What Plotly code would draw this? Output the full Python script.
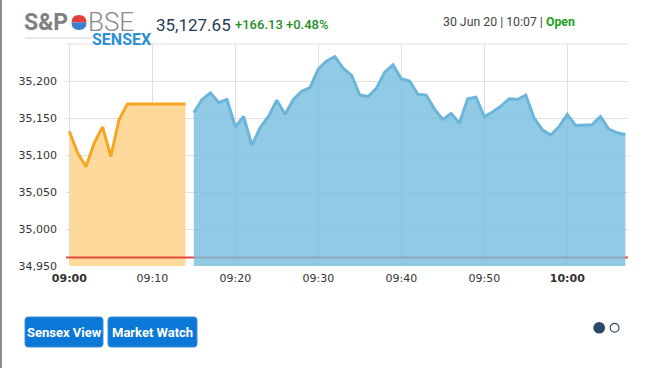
import plotly.graph_objects as go
import pandas as pd

# ---------------- data ----------------
pre_open_times = pd.date_range("2020-06-30 09:00", "2020-06-30 09:14", freq="1min")
pre_open_values = [35132, 35103, 35084, 35116, 35138, 35098, 35148, 35169,
                   35169, 35169, 35169, 35169, 35169, 35169, 35169]

session_times = pd.date_range("2020-06-30 09:15", "2020-06-30 10:07", freq="1min")
session_values = [35157, 35175, 35184, 35171, 35175, 35138, 35152, 35113, 35137, 35152,
                  35174, 35155, 35175, 35186, 35191, 35216, 35227, 35233, 35217, 35208,
                  35181, 35179, 35190, 35212, 35222, 35203, 35200, 35182, 35181, 35162,
                  35148, 35156, 35143, 35176, 35178, 35152, 35158, 35166, 35176, 35175,
                  35181, 35150, 35134, 35127, 35138, 35155, 35140, 35141, 35141, 35152,
                  35135, 35130, 35127.65]

prev_close = 34961.52

y_tick_vals = [34950, 35000, 35050, 35100, 35150, 35200]
y_tick_text = ["34,950", "35,000", "35,050", "35,100", "35,150", "35,200"]
x_tick_vals = ["2020-06-30 09:00", "2020-06-30 09:10", "2020-06-30 09:20", "2020-06-30 09:30",
               "2020-06-30 09:40", "2020-06-30 09:50", "2020-06-30 10:00"]
x_tick_text = ["<b>09:00</b>", "09:10", "09:20", "09:30", "09:40", "09:50", "<b>10:00</b>"]

last_value = "35,127.65"
change_text = "+166.13 +0.48%"
date_text = "30 Jun 20 | 10:07 | "
status_text = "Open"

# ---------------- layout helpers ----------------
W, H = 648, 368
L, R, T, B = 66, 20, 44, 102
PW, PH = W - L - R, H - T - B


def px(x):
    return (x - L) / PW


def py(y):
    return (H - B - y) / PH


fig = go.Figure()

fig.add_trace(go.Scatter(
    x=pre_open_times, y=pre_open_values, mode="lines",
    line=dict(color="#f5a623", width=3), fill="tozeroy", fillcolor="#fdd99b",
    hoverinfo="skip", showlegend=False))

fig.add_trace(go.Scatter(
    x=[pd.Timestamp("2020-06-30 08:59:30"), pd.Timestamp("2020-06-30 10:07:30")],
    y=[prev_close, prev_close], mode="lines",
    line=dict(color="#e5483c", width=2), hoverinfo="skip", showlegend=False))

fig.add_trace(go.Scatter(
    x=session_times, y=session_values, mode="lines",
    line=dict(color="#6cb5da", width=3), fill="tozeroy",
    fillcolor="rgba(118,189,222,0.80)",
    hoverinfo="skip", showlegend=False))

shapes = []
# top grid line
shapes.append(dict(type="line", xref="paper", yref="paper", x0=0, x1=1, y0=1, y1=1,
                   line=dict(color="#e0e0e0", width=1), layer="below"))
# left page border
shapes.append(dict(type="line", xref="paper", yref="paper", x0=px(1), x1=px(1), y0=py(0), y1=py(H),
                   line=dict(color="#8c8c8c", width=2)))
# logo underline
shapes.append(dict(type="line", xref="paper", yref="paper", x0=px(25), x1=px(92), y0=py(38), y1=py(38),
                   line=dict(color="#cfcfcf", width=1)))
# logo emblem: red top half, blue bottom half
cx, cy, r = 79, 22.5, 7.5
shapes.append(dict(type="path", xref="paper", yref="paper",
                   path=f"M {px(cx - r)},{py(cy)} Q {px(cx - r)},{py(cy - r)} {px(cx)},{py(cy - r)} "
                        f"Q {px(cx + r)},{py(cy - r)} {px(cx + r)},{py(cy)} Z",
                   fillcolor="#e53e3e", line=dict(width=0)))
shapes.append(dict(type="path", xref="paper", yref="paper",
                   path=f"M {px(cx - r)},{py(cy)} Q {px(cx - r)},{py(cy + r)} {px(cx)},{py(cy + r)} "
                        f"Q {px(cx + r)},{py(cy + r)} {px(cx + r)},{py(cy)} Z",
                   fillcolor="#3a7fd0", line=dict(width=0)))


def rounded_rect(x0, y0, x1, y1, rad, color):
    p = (f"M {px(x0 + rad)},{py(y0)} L {px(x1 - rad)},{py(y0)} Q {px(x1)},{py(y0)} {px(x1)},{py(y0 + rad)} "
         f"L {px(x1)},{py(y1 - rad)} Q {px(x1)},{py(y1)} {px(x1 - rad)},{py(y1)} "
         f"L {px(x0 + rad)},{py(y1)} Q {px(x0)},{py(y1)} {px(x0)},{py(y1 - rad)} "
         f"L {px(x0)},{py(y0 + rad)} Q {px(x0)},{py(y0)} {px(x0 + rad)},{py(y0)} Z")
    return dict(type="path", xref="paper", yref="paper", path=p, fillcolor=color,
                line=dict(color="#3f8fdc", width=1))


shapes.append(rounded_rect(25, 317, 103, 347, 3, "#0b78d7"))
shapes.append(rounded_rect(108, 317, 197, 347, 3, "#0b78d7"))
# pager dots
shapes.append(dict(type="circle", xref="paper", yref="paper", x0=px(593.3), x1=px(605.1),
                   y0=py(322), y1=py(333.6), fillcolor="#2b4a67", line=dict(width=0)))
shapes.append(dict(type="circle", xref="paper", yref="paper", x0=px(610.2), x1=px(619),
                   y0=py(323.4), y1=py(332.2), fillcolor="white", line=dict(color="#2b4a67", width=1.2)))

ann = []


def text(x, y, s, size, color, family="Roboto", xanchor="left", weight="normal"):
    ann.append(dict(x=px(x), y=py(y), xref="paper", yref="paper", text=s, showarrow=False,
                    xanchor=xanchor, yanchor="middle", borderpad=0,
                    font=dict(family=family, size=size, color=color, weight=weight)))


text(23, 22.5, "S&amp;P", 23, "#808080", family="Roboto", weight="bold")
text(87, 22.5, "BSE", 26, "#8a8a8a", family="Roboto", weight=300)
text(91, 40, "SENSEX", 16, "#2d8fd5", family="Roboto", weight="bold")
text(155, 25, last_value, 17, "#1f3b57", family="Roboto")
text(234, 25, change_text, 13, "#1f8f1f", family="Roboto", weight=500)
text(442, 22, date_text + f"<b><span style='color:#22a022'>{status_text}</span></b>", 12.3, "#444444",
     family="Roboto")
text(64, 332, "Sensex View", 13, "white", family="Roboto", xanchor="center", weight="bold")
text(152.5, 332, "Market Watch", 13, "white", family="Roboto", xanchor="center", weight="bold")

fig.update_layout(
    width=W, height=H,
    margin=dict(l=L, r=R, t=T, b=B, pad=0),
    paper_bgcolor="white", plot_bgcolor="white",
    shapes=shapes, annotations=ann,
    showlegend=False,
    xaxis=dict(
        type="date",
        range=["2020-06-30 08:59:36", "2020-06-30 10:07:19"],
        tickvals=x_tick_vals, ticktext=x_tick_text,
        showgrid=True, gridcolor="#e0e0e0", gridwidth=1,
        zeroline=False, showline=False, ticks="",
        tickfont=dict(family="DejaVu Sans", size=11, color="#333333"),
        ticklabelstandoff=4,
    ),
    yaxis=dict(
        range=[34950, 35250],
        tickvals=y_tick_vals, ticktext=y_tick_text,
        showgrid=True, gridcolor="#e0e0e0", gridwidth=1,
        zeroline=False, showline=False, ticks="",
        tickfont=dict(family="DejaVu Sans", size=11, color="#333333"),
        ticklabelstandoff=8,
    ),
)

fig.write_html("out.html", config={"displayModeBar": False},
               post_script="document.body.style.margin='0';document.body.style.overflow='hidden';")
